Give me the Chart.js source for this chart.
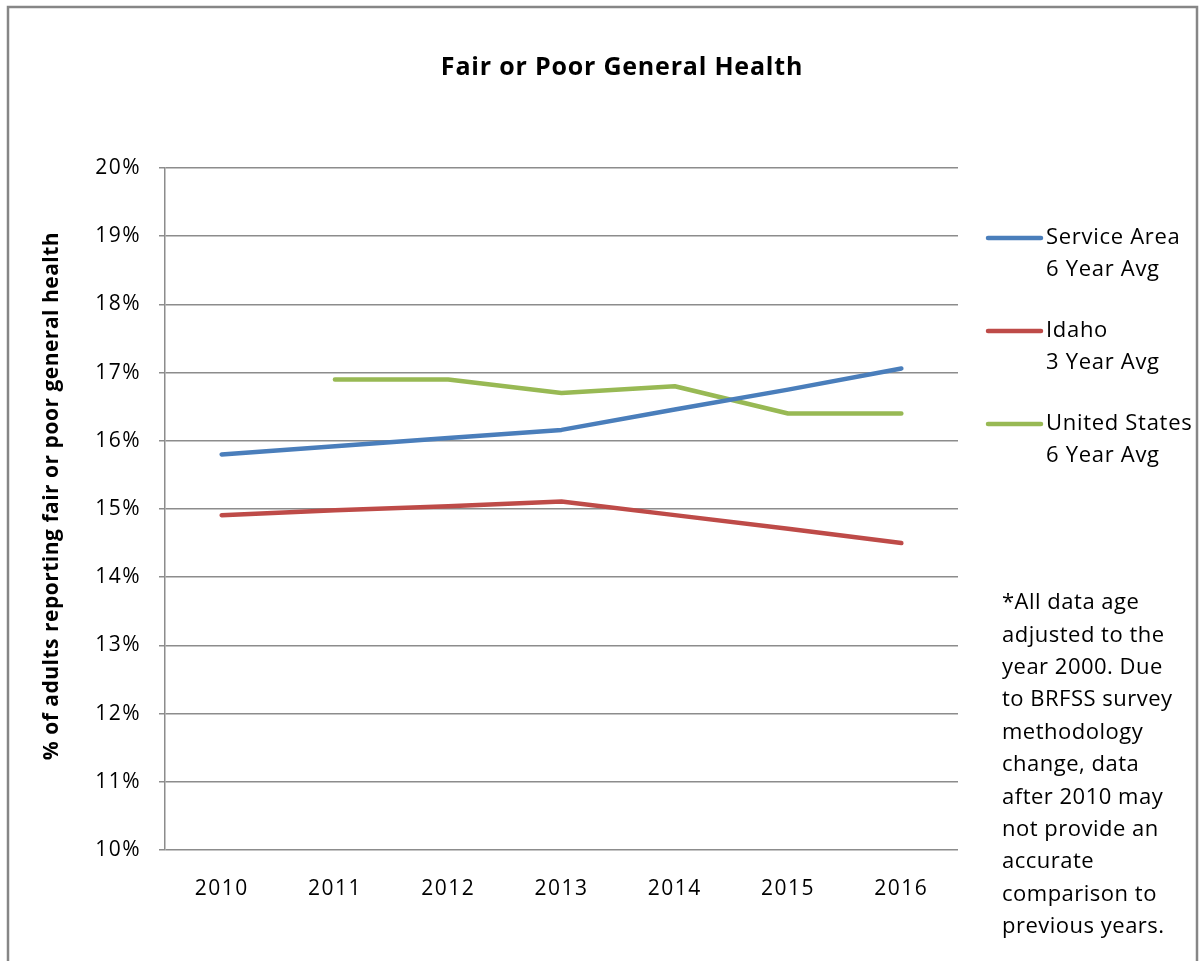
<!DOCTYPE html>
<html>
<head>
<meta charset="utf-8">
<script src="https://cdn.jsdelivr.net/npm/chart.js@4.4.0/dist/chart.umd.min.js"></script>
<style>
  html, body { margin: 0; padding: 0; background: #fff; }
  #wrap { width: 1200px; height: 961px; position: relative; }
</style>
</head>
<body>
<div id="wrap"><canvas id="chart" width="1200" height="961"></canvas></div>
<script>
// Data
const years = ['2010', '2011', '2012', '2013', '2014', '2015', '2016'];
const serviceArea = [15.8, 15.92, 16.04, 16.16, 16.46, 16.75, 17.06];
const idaho = [14.91, 14.98, 15.04, 15.11, 14.91, 14.71, 14.5];
const unitedStates = [null, 16.9, 16.9, 16.7, 16.8, 16.4, 16.4];
const seriesNames = [['Service Area', '6 Year Avg'], ['Idaho', '3 Year Avg'], ['United States', '6 Year Avg']];
const yTicks = [10, 11, 12, 13, 14, 15, 16, 17, 18, 19, 20];
const noteLines = ['*All data age', 'adjusted to the', 'year 2000. Due', 'to BRFSS survey',
  'methodology', 'change, data', 'after 2010 may', 'not provide an', 'accurate',
  'comparison to', 'previous years.'];

const FONT = "'Open Sans', Lato, sans-serif";
Chart.defaults.font.family = FONT;
Chart.defaults.color = '#000';

// wider spacing for the tick labels (reference font runs wide)
const spacing = {
    id: 'spacing',
    beforeDraw(chart) { chart.ctx.letterSpacing = '1.5px'; }
};

// Extra text: frame, title, axis title, legend, note
const decor = {
    id: 'decor',
    afterDraw(chart) {
        const ctx = chart.ctx;
        ctx.save();
        ctx.strokeStyle = '#868686';
        ctx.lineWidth = 2.5;
        ctx.strokeRect(8, 7, 1189, 1000);

        ctx.fillStyle = '#000';
        ctx.textAlign = 'center';
        ctx.textBaseline = 'middle';
        ctx.letterSpacing = '0.8px';
        ctx.font = 'bold 25px ' + FONT;
        ctx.fillText('Fair or Poor General Health', 622, 68);

        ctx.save();
        ctx.translate(52, 496);
        ctx.rotate(-Math.PI / 2);
        ctx.letterSpacing = '0.5px';
        ctx.font = 'bold 21px ' + FONT;
        ctx.fillText('% of adults reporting fair or poor general health', 0, 0);
        ctx.restore();

        // legend
        const rows = [238, 331, 424];
        ctx.textAlign = 'left';
        ctx.letterSpacing = '0.7px';
        ctx.font = '22px ' + FONT;
        chart.data.datasets.forEach((ds, i) => {
            const y = rows[i];
            ctx.strokeStyle = ds.borderColor;
            ctx.lineWidth = 4.5;
            ctx.lineCap = 'round';
            ctx.beginPath();
            ctx.moveTo(988, y);
            ctx.lineTo(1041, y);
            ctx.stroke();
            ctx.fillText(seriesNames[i][0], 1046, y);
            ctx.fillText(seriesNames[i][1], 1046, y + 32);
        });

        // note
        ctx.letterSpacing = '0.5px';
        noteLines.forEach((t, i) => ctx.fillText(t, 1002, 603 + i * 32.4));
        ctx.restore();
    }
};

new Chart(document.getElementById('chart'), {
    type: 'line',
    data: {
        labels: years,
        datasets: [
            { label: seriesNames[0].join(' '), data: serviceArea, borderColor: '#4A7EBB' },
            { label: seriesNames[1].join(' '), data: idaho, borderColor: '#BE4B48' },
            { label: seriesNames[2].join(' '), data: unitedStates, borderColor: '#98B954' }
        ].map(d => Object.assign(d, {
            borderWidth: 4.5,
            pointRadius: 0,
            tension: 0,
            fill: false,
            borderCapStyle: 'round',
            borderJoinStyle: 'round'
        }))
    },
    options: {
        responsive: false,
        animation: false,
        layout: { padding: { top: 168, right: 242, left: 0, bottom: 0 } },
        plugins: { legend: { display: false }, tooltip: { enabled: false } },
        scales: {
            x: {
                offset: true,
                grid: { display: false },
                border: { display: false },
                ticks: { font: { size: 21 }, padding: 18, color: '#000' },
                afterFit(scale) { scale.height = 111; }
            },
            y: {
                min: 10,
                max: 20,
                afterBuildTicks(scale) { scale.ticks = yTicks.map(v => ({ value: v })); },
                grid: { color: '#8C8C8C', lineWidth: 1.5, tickLength: 6 },
                border: { color: '#8C8C8C', width: 1.5 },
                ticks: { font: { size: 21 }, padding: 18, color: '#000', callback: v => v + '%' },
                afterFit(scale) { scale.width = 165; }
            }
        }
    },
    plugins: [spacing, decor]
});
</script>
</body>
</html>
